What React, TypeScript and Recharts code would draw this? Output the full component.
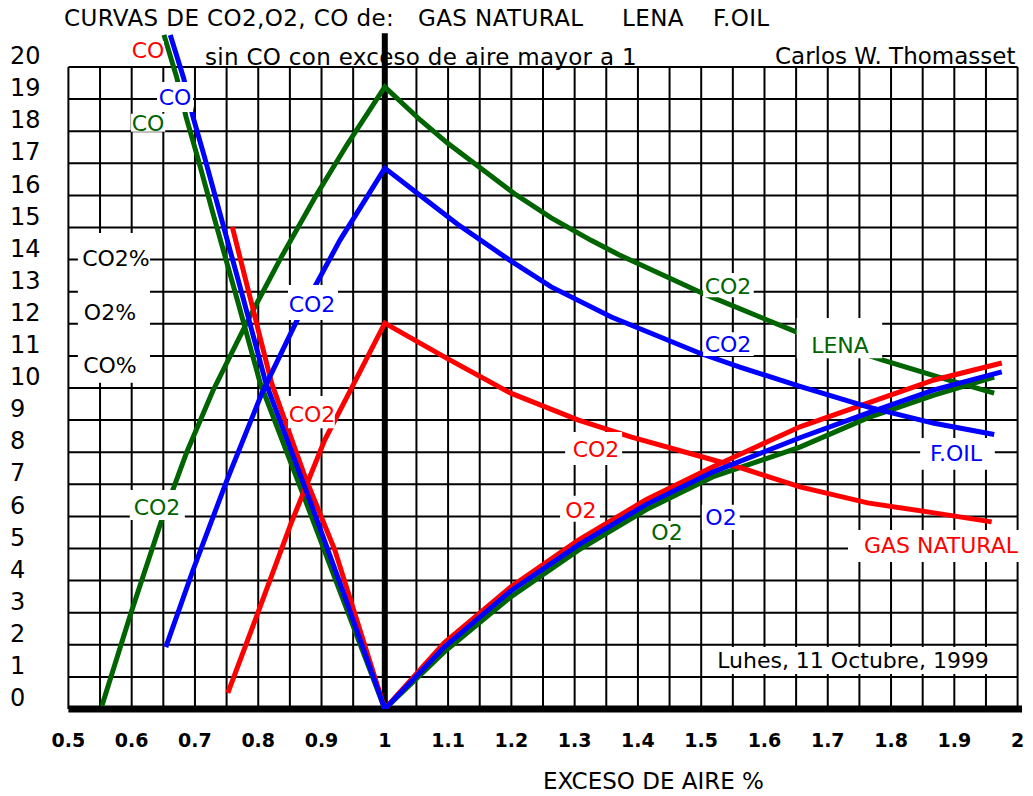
import React from 'react';
import { LineChart, Line, XAxis, YAxis, ReferenceLine, ReferenceArea, ReferenceDot } from 'recharts';

const FONT = '"DejaVu Sans", "Noto Sans", sans-serif';
const RED = '#ff0000';
const BLUE = '#0000ff';
const GREEN = '#006400';
const BLACK = '#000000';

// ---- axes ----
const xTicks = [0.5, 0.6, 0.7, 0.8, 0.9, 1.0, 1.1, 1.2, 1.3, 1.4, 1.5, 1.6, 1.7, 1.8, 1.9, 2.0];
const yTicks = [0, 1, 2, 3, 4, 5, 6, 7, 8, 9, 10, 11, 12, 13, 14, 15, 16, 17, 18, 19, 20];
const xGridStep = 0.05;

// ---- LENA (green) ----
const lenaCO2 = [
  { x: 0.553, y: 0.1 }, { x: 0.599, y: 3.0 }, { x: 0.646, y: 5.8 }, { x: 0.687, y: 8.0 },
  { x: 0.728, y: 9.9 }, { x: 0.786, y: 12.2 }, { x: 0.837, y: 14.1 }, { x: 0.89, y: 15.95 },
  { x: 0.941, y: 17.6 }, { x: 1.0, y: 19.38 }, { x: 1.056, y: 18.35 }, { x: 1.099, y: 17.63 },
  { x: 1.158, y: 16.75 }, { x: 1.205, y: 16.05 }, { x: 1.263, y: 15.3 }, { x: 1.326, y: 14.6 },
  { x: 1.37, y: 14.15 }, { x: 1.508, y: 12.9 }, { x: 1.651, y: 11.74 }, { x: 1.787, y: 10.87 },
  { x: 1.89, y: 10.25 }, { x: 1.963, y: 9.84 },
];
const lenaCO = [
  { x: 0.651, y: 21.0 }, { x: 0.671, y: 19.69 }, { x: 0.686, y: 18.44 }, { x: 0.704, y: 17.2 },
  { x: 0.73, y: 15.33 }, { x: 0.767, y: 12.74 }, { x: 0.803, y: 10.16 }, { x: 0.876, y: 6.42 },
  { x: 0.924, y: 3.93 }, { x: 1.0, y: 0 },
];
const lenaO2 = [
  { x: 1.0, y: 0 }, { x: 1.094, y: 1.78 }, { x: 1.199, y: 3.49 }, { x: 1.306, y: 4.95 },
  { x: 1.412, y: 6.2 }, { x: 1.518, y: 7.23 }, { x: 1.656, y: 8.16 }, { x: 1.763, y: 9.07 },
  { x: 1.868, y: 9.78 }, { x: 1.963, y: 10.34 },
];

// ---- GAS NATURAL (red) ----
const gasCO2 = [
  { x: 0.752, y: 0.5 }, { x: 0.801, y: 3.08 }, { x: 0.852, y: 5.79 }, { x: 0.905, y: 8.38 },
  { x: 0.946, y: 9.94 }, { x: 1.0, y: 12.02 }, { x: 1.094, y: 10.97 }, { x: 1.199, y: 9.84 },
  { x: 1.306, y: 9.0 }, { x: 1.39, y: 8.47 }, { x: 1.508, y: 7.82 }, { x: 1.565, y: 7.5 },
  { x: 1.656, y: 6.92 }, { x: 1.763, y: 6.42 }, { x: 1.868, y: 6.11 }, { x: 1.959, y: 5.83 },
];
const gasCO = [
  { x: 0.759, y: 15.02 }, { x: 0.821, y: 10.16 }, { x: 0.874, y: 7.23 }, { x: 0.921, y: 4.95 },
  { x: 1.0, y: 0 },
];
const gasO2 = [
  { x: 1.0, y: 0 }, { x: 1.094, y: 2.06 }, { x: 1.199, y: 3.8 }, { x: 1.306, y: 5.26 },
  { x: 1.412, y: 6.51 }, { x: 1.518, y: 7.54 }, { x: 1.656, y: 8.79 }, { x: 1.763, y: 9.53 },
  { x: 1.868, y: 10.25 }, { x: 1.975, y: 10.78 },
];

// ---- F.OIL (blue) ----
const foilCO2 = [
  { x: 0.654, y: 1.93 }, { x: 0.697, y: 4.33 }, { x: 0.75, y: 7.1 }, { x: 0.806, y: 9.85 },
  { x: 0.866, y: 12.3 }, { x: 0.929, y: 14.6 }, { x: 0.967, y: 15.8 }, { x: 1.0, y: 16.85 },
  { x: 1.056, y: 16.0 }, { x: 1.115, y: 15.1 }, { x: 1.199, y: 13.96 }, { x: 1.263, y: 13.15 },
  { x: 1.358, y: 12.21 }, { x: 1.497, y: 11.09 }, { x: 1.561, y: 10.65 }, { x: 1.656, y: 10.05 },
  { x: 1.763, y: 9.41 }, { x: 1.868, y: 8.9 }, { x: 1.963, y: 8.55 },
];
const foilCO = [
  { x: 0.661, y: 21.0 }, { x: 0.682, y: 19.66 }, { x: 0.697, y: 18.44 }, { x: 0.715, y: 17.2 },
  { x: 0.741, y: 15.33 }, { x: 0.777, y: 12.74 }, { x: 0.812, y: 10.16 }, { x: 0.883, y: 6.42 },
  { x: 0.929, y: 3.93 }, { x: 1.0, y: 0 },
];
const foilO2 = [
  { x: 1.0, y: 0 }, { x: 1.094, y: 1.93 }, { x: 1.199, y: 3.68 }, { x: 1.306, y: 5.11 },
  { x: 1.412, y: 6.36 }, { x: 1.518, y: 7.38 }, { x: 1.656, y: 8.45 }, { x: 1.763, y: 9.22 },
  { x: 1.868, y: 9.94 }, { x: 1.975, y: 10.5 },
];

// ---- annotations (data units) ----
const labelBoxes = [
  [0.599, 0.651, 20.22, 20.81],
  [0.64, 0.697, 18.6, 19.53],
  [0.599, 0.653, 17.98, 18.54],
  [0.515, 0.629, 10.16, 14.83],
  [0.597, 0.684, 5.89, 6.82],
  [0.847, 0.926, 12.12, 13.21],
  [0.847, 0.921, 8.75, 9.75],
  [1.503, 1.583, 12.83, 13.58],
  [1.651, 1.786, 10.93, 12.18],
  [1.503, 1.583, 11.0, 11.74],
  [1.846, 1.964, 7.45, 8.44],
  [1.732, 2.02, 4.58, 5.58],
  [1.285, 1.375, 7.6, 8.63],
  [1.277, 1.34, 5.83, 6.64],
  [1.416, 1.474, 5.11, 5.86],
  [1.501, 1.561, 5.58, 6.36],
  [1.503, 1.991, 1.09, 1.93],
];
const labelTexts = [
  { t: 'CO', x: 0.6258, y: 20.53, c: RED },
  { t: 'CO', x: 0.6685, y: 19.07, c: BLUE },
  { t: 'CO', x: 0.6258, y: 18.26, c: GREEN },
  { t: 'CO2%', x: 0.5752, y: 14.05, c: BLACK },
  { t: 'O2%', x: 0.5657, y: 12.37, c: BLACK },
  { t: 'CO%', x: 0.5657, y: 10.72, c: BLACK },
  { t: 'CO2', x: 0.64, y: 6.29, c: GREEN },
  { t: 'CO2', x: 0.885, y: 12.62, c: BLUE },
  { t: 'CO2', x: 0.885, y: 9.19, c: RED },
  { t: 'CO2', x: 1.5424, y: 13.18, c: GREEN },
  { t: 'LENA', x: 1.7193, y: 11.34, c: GREEN },
  { t: 'CO2', x: 1.5424, y: 11.37, c: BLUE },
  { t: 'F.OIL', x: 1.9027, y: 7.98, c: BLUE },
  { t: 'GAS NATURAL', x: 1.879, y: 5.11, c: RED },
  { t: 'CO2', x: 1.3338, y: 8.1, c: RED },
  { t: 'O2', x: 1.31, y: 6.2, c: RED },
  { t: 'O2', x: 1.446, y: 5.51, c: GREEN },
  { t: 'O2', x: 1.5313, y: 5.98, c: BLUE },
  { t: 'Luhes, 11 Octubre, 1999', x: 1.7399, y: 1.53, c: BLACK },
];

const pageTexts = [
  { t: 'CURVAS DE CO2,O2, CO de:', left: 64, cy: 18.5, fs: 23, ls: 0.4 },
  { t: 'GAS NATURAL', left: 418, cy: 18.5, fs: 23, ls: 0.4 },
  { t: 'LENA', left: 622, cy: 18.5, fs: 23, ls: 0.4 },
  { t: 'F.OIL', left: 713, cy: 18.5, fs: 23, ls: 0.4 },
  { t: 'sin CO con exceso de aire mayor a 1', left: 205, cy: 57, fs: 23, ls: 0.3 },
  { t: 'Carlos W. Thomasset', left: 775, cy: 56, fs: 23, ls: 0 },
  { t: 'EXCESO DE AIRE %', left: 543, cy: 781, fs: 23, ls: 0 },
];

const xGrid = Array.from({ length: 31 }, (_, i) => +(0.5 + i * xGridStep).toFixed(2));
const yGrid = yTicks.filter((v) => v > 0);

const YTick = (props: any) => {
  const { y, payload } = props;
  return (
    <text x={10} y={y - 11.5 + 0.36 * 24} fontFamily={FONT} fontSize={24} fill={BLACK} textAnchor="start">
      {payload.value}
    </text>
  );
};

const XTick = (props: any) => {
  const { x, payload } = props;
  return (
    <text x={x} y={740.5 + 0.36 * 19} fontFamily={FONT} fontSize={19} fontWeight="bold" fill={BLACK} textAnchor="middle">
      {String(payload.value)}
    </text>
  );
};

const series = [
  { d: lenaCO2, c: GREEN }, { d: lenaCO, c: GREEN }, { d: lenaO2, c: GREEN },
  { d: gasCO2, c: RED }, { d: gasCO, c: RED }, { d: gasO2, c: RED },
  { d: foilCO2, c: BLUE }, { d: foilCO, c: BLUE }, { d: foilO2, c: BLUE },
];

export default function App() {
  return (
    <div style={{ position: 'absolute', left: 0, top: 0, width: 1033, height: 796, background: '#fff' }}>
      <LineChart width={1033} height={796} margin={{ top: 2.8, right: 15.4, left: 0, bottom: 27 }}>
        <XAxis
          type="number"
          dataKey="x"
          domain={[0.5, 2.0]}
          ticks={xTicks}
          axisLine={false}
          tickLine={false}
          height={60}
          tick={<XTick />}
          allowDataOverflow
        />
        <YAxis
          type="number"
          dataKey="y"
          domain={[0, 22]}
          ticks={yTicks}
          axisLine={false}
          tickLine={false}
          width={68.4}
          tick={<YTick />}
          allowDataOverflow
        />
        {xGrid.map((gx) => (
          <ReferenceLine
            key={'vx' + gx}
            segment={[{ x: gx, y: 0 }, { x: gx, y: 20 }]}
            stroke={BLACK}
            strokeWidth={2}
            ifOverflow="visible"
            zIndex={-10}
          />
        ))}
        {yGrid.map((gy) => (
          <ReferenceLine
            key={'hy' + gy}
            segment={[{ x: 0.5, y: gy }, { x: 2.0, y: gy }]}
            stroke={BLACK}
            strokeWidth={2}
            ifOverflow="visible"
            zIndex={-10}
          />
        ))}
        <ReferenceLine segment={[{ x: 0.5, y: 0 }, { x: 2.007, y: 0 }]} stroke={BLACK} strokeWidth={7} ifOverflow="visible" zIndex={-5} />
        <ReferenceLine segment={[{ x: 1.0, y: 0 }, { x: 1.0, y: 21.05 }]} stroke={BLACK} strokeWidth={6} ifOverflow="visible" zIndex={-5} />
        {series.map((s, i) => (
          <Line
            key={'s' + i}
            data={s.d}
            dataKey="y"
            type="linear"
            stroke={s.c}
            strokeWidth={5}
            dot={false}
            activeDot={false}
            isAnimationActive={false}
            zIndex={400}
          />
        ))}
        {labelBoxes.map((b, i) => (
          <ReferenceArea
            key={'b' + i}
            x1={b[0]}
            x2={b[1]}
            y1={b[2]}
            y2={b[3]}
            fill="#ffffff"
            fillOpacity={1}
            stroke="none"
            ifOverflow="visible"
            zIndex={800}
          />
        ))}
        {labelTexts.map((l, i) => (
          <ReferenceDot
            key={'t' + i}
            x={l.x}
            y={l.y}
            r={1}
            fill="none"
            stroke="none"
            ifOverflow="visible"
            zIndex={900}
            label={{ value: l.t, position: 'center', fill: l.c, fontSize: 22, fontFamily: FONT }}
          />
        ))}
      </LineChart>
      {pageTexts.map((p, i) => (
        <div
          key={'p' + i}
          style={{
            position: 'absolute',
            left: p.left,
            top: p.cy - p.fs / 2,
            fontFamily: FONT,
            fontSize: p.fs,
            lineHeight: p.fs + 'px',
            letterSpacing: p.ls,
            whiteSpace: 'pre',
            color: BLACK,
          }}
        >
          {p.t}
        </div>
      ))}
    </div>
  );
}
